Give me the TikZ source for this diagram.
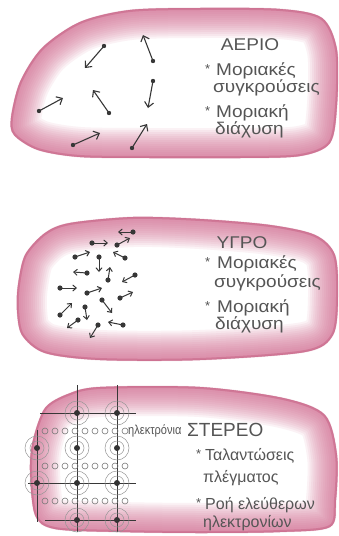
\documentclass[tikz,border=0pt]{standalone}
\usepackage{fontspec}
\setmainfont{Liberation Sans}
\usetikzlibrary{arrows.meta}

\definecolor{blobpink}{RGB}{212,108,145}
\definecolor{blobedge}{RGB}{190,80,118}
\definecolor{inkgray}{RGB}{55,55,55}
\definecolor{txtgray}{RGB}{85,85,85}
\definecolor{ringgray}{RGB}{150,150,150}

% a blob with a pink rim that fades to white inside
\newcommand\softblob[1]{%
  \fill[white] plot[smooth cycle] coordinates {#1};
  \begin{scope}
    \clip plot[smooth cycle] coordinates {#1};
    \foreach \w in {4,8,...,60} {
      \draw[blobpink, opacity=0.085, line width=\w pt] plot[smooth cycle] coordinates {#1};
    }
    \draw[blobedge, opacity=0.35, line width=4pt] plot[smooth cycle] coordinates {#1};
  \end{scope}
  \draw[blobedge, opacity=0.2, line width=1pt] plot[smooth cycle] coordinates {#1};
}

% horizontally widened text
\newcommand\widetext[1]{\scalebox{1.12}[1]{#1}}

\tikzset{
  mol/.style={draw=inkgray, line width=1.1pt, -{Straight Barb[length=5pt,width=9pt]}},
  molsmall/.style={draw=inkgray, line width=1pt, -{Straight Barb[length=3.5pt,width=6pt]}},
  moldot/.style={fill=inkgray},
  txt/.style={text=txtgray, inner sep=0pt, font=\fontsize{17}{17}\selectfont},
  txtsmall/.style={text=txtgray, inner sep=0pt, font=\fontsize{16}{16}\selectfont},
  bullet/.style={text=txtgray, inner sep=0pt, font=\fontsize{13}{13}\selectfont},
  lattice/.style={draw=inkgray, line width=0.8pt},
  ring/.style={draw=ringgray, line width=0.5pt},
  atom/.style={fill=black!80},
  electron/.style={draw=ringgray!80!black, line width=0.6pt},
}

\begin{document}
\begin{tikzpicture}[x=1pt,y=-1pt]
\useasboundingbox (0,0) rectangle (339,536);

% ---------- gas ----------
\softblob{(11,118) (20,82) (42,48) (80,22) (130,10) (200,8) (280,9) (322,18) (337,50) (337,105) (330,143) (300,156) (240,158) (150,158) (80,157) (38,150) (14,135)}

\foreach \ax/\ay/\bx/\by in {104/46/85/68, 153/61/143/35, 153/81/148/108, 39/111/63/98,
  109/113/93/90, 73/145/100/133, 132/148/147/124} {
  \fill[moldot] (\ax,\ay) circle (2.2pt);
  \draw[mol] (\ax,\ay) -- (\bx,\by);
}

\node[txt, anchor=base] (gasT) at (250,50) {\widetext{ΑΕΡΙΟ}};
\node[bullet, anchor=base west] (gasB1) at (205,73) {*};
\node[txt, anchor=base west] (gas1) at (216,75) {\widetext{Μοριακές}};
\node[txt, anchor=base west] (gas2) at (213,92) {\widetext{συγκρούσεις}};
\node[bullet, anchor=base west] (gasB2) at (205,115) {*};
\node[txt, anchor=base west] (gas3) at (216,117) {\widetext{Μοριακή}};
\node[txt, anchor=base west] (gas4) at (215,134) {\widetext{διάχυση}};

% ---------- liquid ----------
\softblob{(18,285) (25,255) (45,233) (70,223) (133,217) (200,219) (270,225) (315,235) (335,255) (338,297) (333,335) (305,352) (200,360) (100,360) (45,353) (22,335) (17,310)}

\foreach \ax/\ay/\bx/\by in {133/232/118/232, 92/243/108/243, 117/245/130/238, 125/258/113/252,
  75/257/90/252, 99/257/99/272, 87/273/73/272, 108/280/110/267, 135/275/122/282,
  60/288/77/288, 87/293/102/288, 120/298/133/292, 102/300/112/313, 85/307/87/320,
  60/315/72/303, 78/320/67/328, 98/325/90/338, 123/325/108/322} {
  \fill[moldot] (\ax,\ay) circle (2.6pt);
  \draw[molsmall] (\ax,\ay) -- (\bx,\by);
}

\node[txt, anchor=base] (liqT) at (242,248) {\widetext{ΥΓΡΟ}};
\node[bullet, anchor=base west] (liqB1) at (205,266) {*};
\node[txt, anchor=base west] (liq1) at (217,268) {\widetext{Μοριακές}};
\node[txt, anchor=base west] (liq2) at (214,287) {\widetext{συγκρούσεις}};
\node[bullet, anchor=base west] (liqB2) at (205,310) {*};
\node[txt, anchor=base west] (liq3) at (217,312) {\widetext{Μοριακή}};
\node[txt, anchor=base west] (liq4) at (215,329) {\widetext{διάχυση}};

% ---------- solid ----------
\softblob{(30,470) (33,440) (45,408) (68,394) (100,387) (200,387) (283,398) (325,415) (337,455) (336,500) (330,527) (280,532) (200,533) (120,532) (55,529) (35,515)}

% lattice lines
\draw[lattice] (37,430) -- (37,522);
\draw[lattice] (77,385) -- (77,532);
\draw[lattice] (117,385) -- (117,532);
\draw[lattice] (40,413) -- (136,413);
\draw[lattice] (28,483) -- (136,483);
\draw[lattice] (45,520) -- (136,520);

% free electrons
\foreach \ey in {431,466,501} {
  \foreach \ex in {45,55,...,125} {
    \draw[electron] (\ex,\ey) circle (3pt);
  }
}

% vibrating ions
\foreach \px/\py in {77/413, 117/413, 37/448, 77/448, 117/448, 37/483, 77/483, 117/483, 77/520, 117/520} {
  \draw[ring] (\px,\py) circle (12pt);
  \draw[ring] (\px,\py) circle (7pt);
  \fill[atom] (\px,\py) circle (3pt);
}

\node[text=txtgray, inner sep=0pt, font=\fontsize{13}{13}\selectfont, anchor=base west] (elec) at (128,434) {\scalebox{0.85}[1]{ηλεκτρόνια}};
\node[text=txtgray, inner sep=0pt, font=\fontsize{19}{19}\selectfont, anchor=base west] (solT) at (187,436) {ΣΤΕΡΕΟ};
\node[bullet, anchor=base west] (solB1) at (196,458) {*};
\node[txtsmall, anchor=base west] (sol1) at (205,460) {Ταλαντώσεις};
\node[txtsmall, anchor=base west] (sol2) at (203,482) {πλέγματος};
\node[bullet, anchor=base west] (solB2) at (196,507) {*};
\node[txtsmall, anchor=base west] (sol3) at (205,509) {Ροή ελεύθερων};
\node[txtsmall, anchor=base west] (sol4) at (203,527) {ηλεκτρονίων};

\end{tikzpicture}
\end{document}
